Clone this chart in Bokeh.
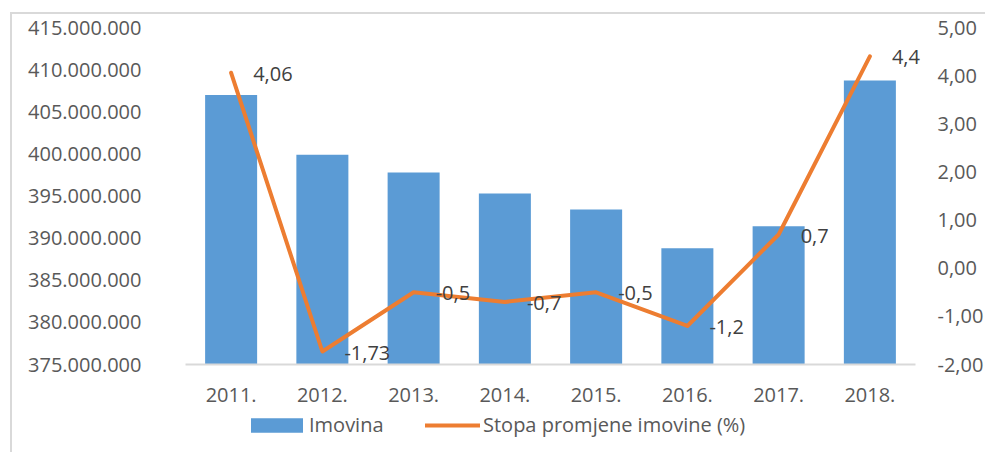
from bokeh.plotting import figure
from bokeh.models import (FactorRange, Range1d, LinearAxis, FixedTicker, ColumnDataSource,
                          LabelSet, Legend, LegendItem)
from bokeh.core.properties import value
from bokeh.embed import file_html
from bokeh.resources import INLINE

# ---- data ----
years = ["2011.", "2012.", "2013.", "2014.", "2015.", "2016.", "2017.", "2018."]
imovina = [407.0e6, 399.9e6, 397.8e6, 395.3e6, 393.4e6, 388.8e6, 391.4e6, 408.7e6]
stopa = [4.06, -1.73, -0.5, -0.7, -0.5, -1.2, 0.7, 4.4]
stopa_labels = ["4,06", "-1,73", "-0,5", "-0,7", "-0,5", "-1,2", "0,7", "4,4"]

left_ticks = [375e6, 380e6, 385e6, 390e6, 395e6, 400e6, 405e6, 410e6, 415e6]
left_tick_labels = ["375.000.000", "380.000.000", "385.000.000", "390.000.000", "395.000.000",
                    "400.000.000", "405.000.000", "410.000.000", "415.000.000"]
right_ticks = [-2, -1, 0, 1, 2, 3, 4, 5]
right_tick_labels = ["-2,00", "-1,00", "0,00", "1,00", "2,00", "3,00", "4,00", "5,00"]

BLUE = "#5B9BD5"
ORANGE = "#ED7D31"
FONT = "Open Sans"
FS = "20px"
TXT = "#595959"

# value axes: 375M..415M and -2..5 span the upper 337 px of the frame;
# the frame continues 86 px lower to hold the category labels and the legend
L_MIN, L_MAX = left_ticks[0], left_ticks[-1]
R_MIN, R_MAX = right_ticks[0], right_ticks[-1]
EXT = 86 / 337
PAD = 14 / 91.25   # extra room (in categories) each side so outer labels are not clipped

p = figure(x_range=FactorRange(*years, range_padding=PAD, range_padding_units="absolute"),
           y_range=Range1d(L_MIN - (L_MAX - L_MIN) * EXT, L_MAX),
           width=975, height=440, output_backend="svg", toolbar_location=None,
           min_border_left=159, min_border_right=58, min_border_top=13, min_border_bottom=4)
p.styles = {"margin-left": "10px", "margin-top": "12px",
            "border-left": "2px solid #d9d9d9", "border-top": "2px solid #d9d9d9"}
p.outline_line_color = None
p.xgrid.grid_line_color = None
p.ygrid.grid_line_color = None
p.extra_y_ranges = {"pct": Range1d(R_MIN - (R_MAX - R_MIN) * EXT, R_MAX)}
p.xaxis.visible = False

src = ColumnDataSource(dict(x=years, v=imovina, s=stopa, lab=stopa_labels,
                            base=[L_MIN] * len(years)))

bars = p.vbar(x="x", top="v", bottom=L_MIN, width=0.57, source=src,
              fill_color=BLUE, line_color=None)
line = p.line(x="x", y="s", source=src, y_range_name="pct", line_color=ORANGE,
              line_width=4, line_join="round", line_cap="round")

# category axis line (from first category's left edge to last category's right edge) and labels
p.segment(x0=[0], x1=[len(years)], y0=[L_MIN], y1=[L_MIN], line_color="#d9d9d9", line_width=2)
xlabels = LabelSet(x="x", y="base", text="x", source=src, y_offset=-30,
                   text_baseline="middle", text_align="center",
                   text_font=value(FONT), text_font_size=value(FS), text_color=TXT)
p.add_layout(xlabels)

labels = LabelSet(x="x", y="s", text="lab", source=src, y_range_name="pct",
                  x_offset=22, y_offset=-1, text_baseline="middle", text_align="left",
                  text_font=value(FONT), text_font_size=value(FS), text_color="#404040")
p.add_layout(labels)

# left axis
ya = p.yaxis[0]
ya.ticker = FixedTicker(ticks=left_ticks)
ya.major_label_overrides = {t: l for t, l in zip(left_ticks, left_tick_labels)}
ya.axis_line_color = None
ya.major_tick_line_color = None
ya.minor_tick_line_color = None
ya.major_tick_out = 0
ya.major_tick_in = 0
ya.major_label_standoff = 30
ya.major_label_text_font = FONT
ya.major_label_text_font_size = FS
ya.major_label_text_color = TXT

# right axis
ra = LinearAxis(y_range_name="pct", ticker=FixedTicker(ticks=right_ticks))
ra.major_label_overrides = {t: l for t, l in zip(right_ticks, right_tick_labels)}
ra.axis_line_color = None
ra.major_tick_line_color = None
ra.minor_tick_line_color = None
ra.major_tick_out = 0
ra.major_tick_in = 0
ra.major_label_standoff = 8
ra.major_label_text_font = FONT
ra.major_label_text_font_size = FS
ra.major_label_text_color = TXT
p.add_layout(ra, "right")

common = dict(orientation="horizontal", padding=0, margin=0, border_line_color=None,
              background_fill_alpha=0, label_text_font=FONT, label_text_font_size=FS,
              label_text_color=TXT)
leg1 = Legend(items=[LegendItem(label="Imovina", renderers=[bars])],
              location=(73, 12), glyph_width=65, glyph_height=18, label_standoff=0, **common)
leg2 = Legend(items=[LegendItem(label="Stopa promjene imovine (%)", renderers=[line])],
              location=(254, 12), glyph_width=55, glyph_height=14, label_standoff=3, **common)
p.add_layout(leg1, "center")
p.add_layout(leg2, "center")

open("out.html", "w").write(file_html(p, INLINE))
